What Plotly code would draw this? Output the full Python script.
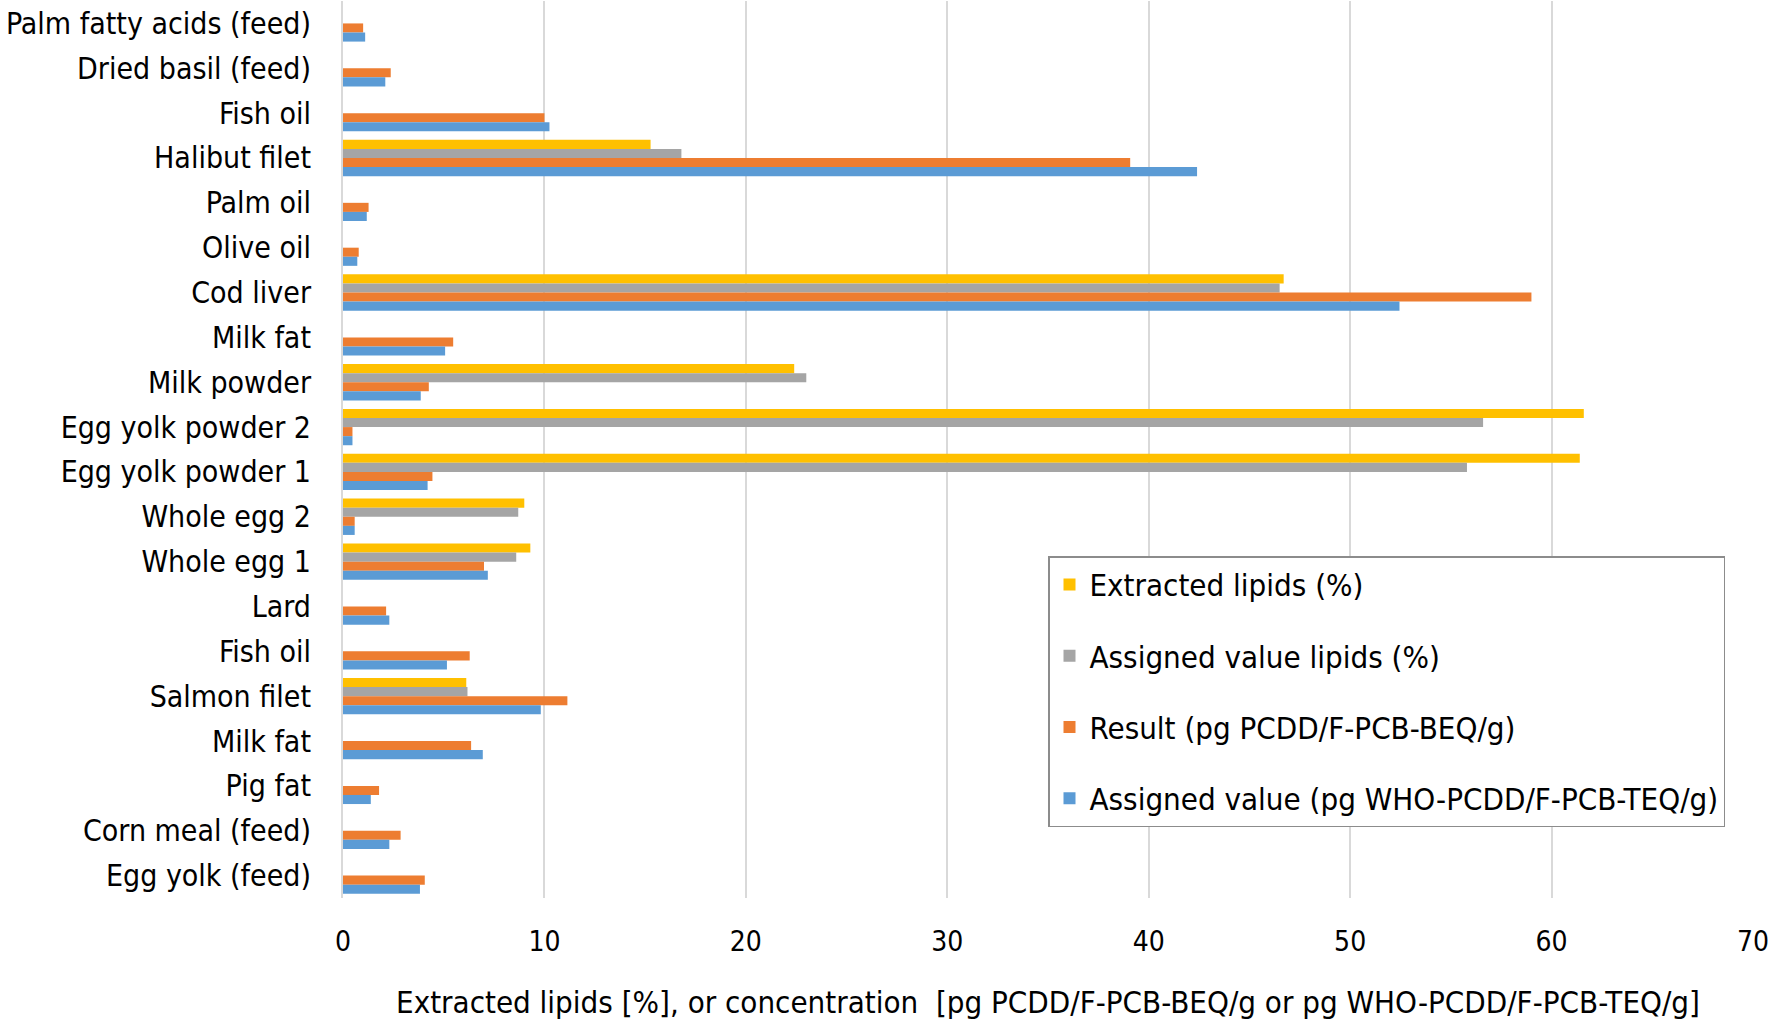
import plotly.graph_objects as go

categories = [
    "Palm fatty acids (feed)", "Dried basil (feed)", "Fish oil", "Halibut filet",
    "Palm oil", "Olive oil", "Cod liver", "Milk fat", "Milk powder",
    "Egg yolk powder 2", "Egg yolk powder 1", "Whole egg 2", "Whole egg 1",
    "Lard", "Fish oil", "Salmon filet", "Milk fat", "Pig fat",
    "Corn meal (feed)", "Egg yolk (feed)",
]

extracted_lipids = [None, None, None, 15.27, None, None, 46.7, None, 22.4,
                    61.6, 61.4, 9.0, 9.3, None, None, 6.12, None, None, None, None]
assigned_lipids = [None, None, None, 16.8, None, None, 46.5, None, 23.0,
                   56.6, 55.8, 8.7, 8.6, None, None, 6.18, None, None, None, None]
result_beq = [1.0, 2.37, 10.0, 39.08, 1.27, 0.78, 59.0, 5.47, 4.26,
              0.47, 4.44, 0.58, 7.0, 2.14, 6.29, 11.14, 6.36, 1.79, 2.86, 4.06]
assigned_teq = [1.1, 2.1, 10.25, 42.4, 1.18, 0.71, 52.45, 5.07, 3.86,
                0.47, 4.2, 0.58, 7.19, 2.3, 5.16, 9.82, 6.94, 1.38, 2.3, 3.82]

series_names = [
    "Extracted lipids (%)",
    "Assigned value lipids (%)",
    "Result (pg PCDD/F-PCB-BEQ/g)",
    "Assigned value (pg WHO-PCDD/F-PCB-TEQ/g)",
]
series_values = [extracted_lipids, assigned_lipids, result_beq, assigned_teq]
colors = ["#FFC000", "#A5A5A5", "#ED7D31", "#5B9BD5"]

x_ticks = [0, 10, 20, 30, 40, 50, 60, 70]
positions = list(range(len(categories)))

FONT = "'DejaVu Sans Condensed', 'DejaVu Sans', sans-serif"

fig = go.Figure()
for name, vals, col in zip(series_names, series_values, colors):
    fig.add_trace(go.Bar(
        y=positions, x=vals, name=name, orientation="h",
        marker=dict(color=col, line=dict(width=0)),
        legendgroup=name,
    ))

fig.update_layout(
    width=1770, height=1021,
    margin=dict(l=343, r=17, t=1, b=123, autoexpand=False),
    paper_bgcolor="white", plot_bgcolor="white",
    barmode="group", bargap=0.19, bargroupgap=0,
    font=dict(family=FONT, color="#000000"),
    showlegend=True,
    legend=dict(
        x=0.5, y=0.381, xanchor="left", yanchor="top",
        bgcolor="white", bordercolor="#8C8C8C", borderwidth=1.5,
        font=dict(size=31, family=FONT, color="#000000"),
        tracegroupgap=28, traceorder="grouped",
        itemwidth=30,
    ),
    xaxis=dict(
        range=[0, 70], tickvals=x_ticks, ticktext=[str(v) for v in x_ticks],
        showgrid=True, gridcolor="#D9D9D9", gridwidth=2,
        zeroline=False, showline=False, automargin=False,
        tickfont=dict(size=28, family=FONT),
        ticklabelstandoff=24,
        title=dict(
            text="Extracted lipids [%], or concentration  [pg PCDD/F-PCB-BEQ/g or pg WHO-PCDD/F-PCB-TEQ/g]",
            font=dict(size=31, family=FONT), standoff=34,
        ),
    ),
    yaxis=dict(
        range=[len(categories) - 0.5, -0.5],
        tickvals=positions, ticktext=categories,
        showgrid=False, zeroline=False, automargin=False,
        showline=True, linecolor="#D9D9D9", linewidth=2,
        tickfont=dict(size=30, family=FONT),
        ticklabelstandoff=24,
    ),
)

# remove the default 8px page margin so the figure fills the window exactly
fig.write_html("out.html", config={"displayModeBar": False},
               post_script="document.body.style.margin='0';")
